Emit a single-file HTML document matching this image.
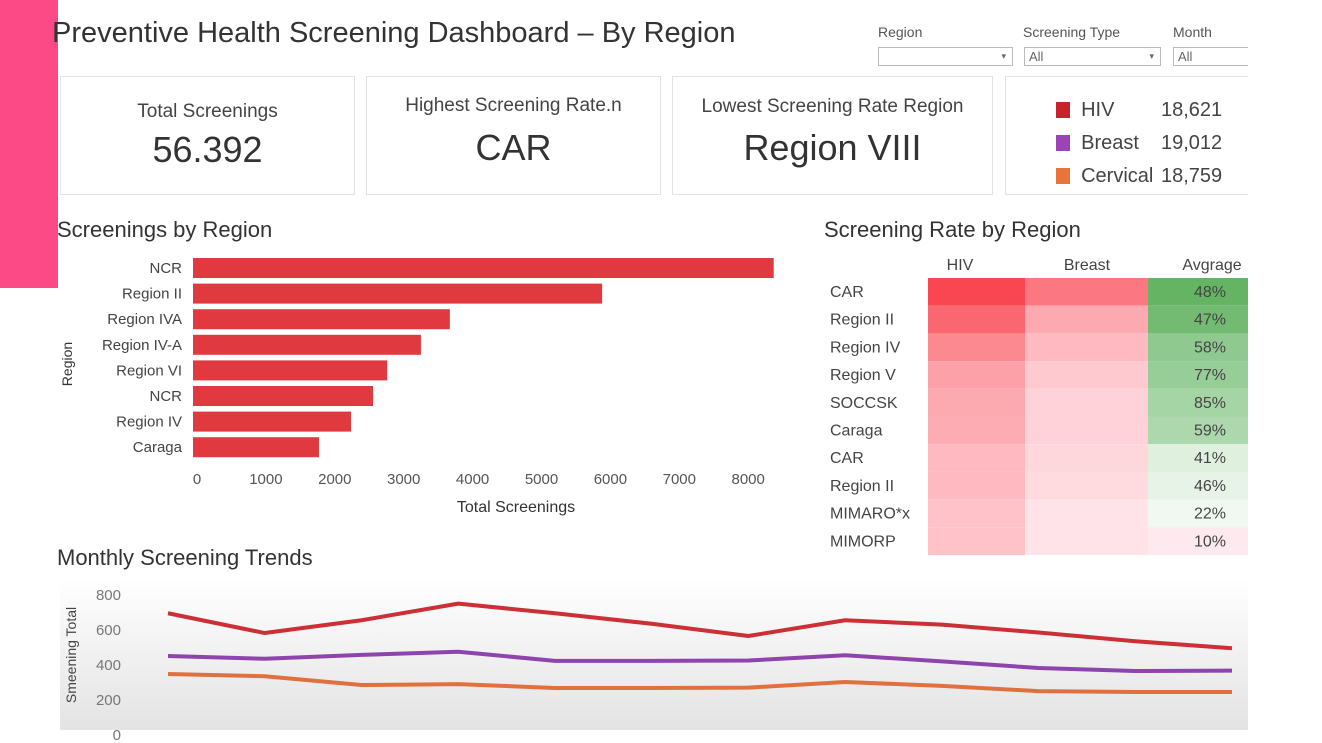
<!DOCTYPE html>
<html><head><meta charset="utf-8"><style>
body{margin:0;width:1322px;height:743px;background:#fff;font-family:"Liberation Sans",sans-serif;overflow:hidden;position:relative;color:#333}
.abs{position:absolute}
.card{position:absolute;border:1px solid #e2e2e2;background:#fff;text-align:center}
.lbl{font-size:19px;color:#444}
.big{font-size:36px;color:#333}
.filt{position:absolute;font-size:14px;color:#555}
.box{position:absolute;border:1px solid #bbb;height:19px;background:#fff;font-size:13px;color:#666;padding-left:4px;box-sizing:border-box;line-height:17px}
</style></head><body>
<div class="abs" style="left:0;top:0;width:58px;height:288px;background:#fb4a86"></div>
<div class="abs" style="left:52px;top:17px;font-size:29px;color:#333">Preventive Health Screening Dashboard – By Region</div>
<div class="filt" style="left:878px;top:24px">Region</div>
<div class="box" style="left:878px;top:47px;width:135px">&nbsp;<span style="float:right;margin-right:6px;font-size:9px">▾</span></div>
<div class="filt" style="left:1023px;top:24px">Screening Type</div>
<div class="box" style="left:1024px;top:47px;width:137px">All<span style="float:right;margin-right:6px;font-size:9px">▾</span></div>
<div class="filt" style="left:1173px;top:24px">Month</div>
<div class="box" style="left:1173px;top:47px;width:75px;border-right:none">All</div>

<div class="card" style="left:60px;top:76px;width:293px;height:117px">
<div class="lbl" style="margin-top:24px">Total Screenings</div><div class="big" style="margin-top:6px">56.392</div></div>
<div class="card" style="left:366px;top:76px;width:293px;height:117px">
<div class="lbl" style="margin-top:18px">Highest Screening Rate.n</div><div class="big" style="margin-top:10px">CAR</div></div>
<div class="card" style="left:672px;top:76px;width:319px;height:117px">
<div class="lbl" style="margin-top:19px">Lowest Screening Rate Region</div><div class="big" style="margin-top:9px">Region VIII</div></div>
<div class="card" style="left:1005px;top:76px;width:260px;height:117px;text-align:left;font-size:20px;color:#444">
<div style="position:absolute;left:50px;top:22px"><span style="display:inline-block;width:14px;height:16px;background:#c8232c;vertical-align:-2px"></span>&nbsp; HIV</div><div style="position:absolute;left:155px;top:22px">18,621</div>
<div style="position:absolute;left:50px;top:55px"><span style="display:inline-block;width:14px;height:16px;background:#9b45b5;vertical-align:-2px"></span>&nbsp; Breast</div><div style="position:absolute;left:155px;top:55px">19,012</div>
<div style="position:absolute;left:50px;top:88px"><span style="display:inline-block;width:14px;height:16px;background:#e8743b;vertical-align:-2px"></span>&nbsp; Cervical</div><div style="position:absolute;left:155px;top:88px">18,759</div>
</div>
<div class="abs" style="left:1248px;top:0;width:74px;height:743px;background:#fff"></div>

<svg id="chart" class="abs" style="left:0;top:0" width="1322" height="743"></svg>
<script>
const barCats=["NCR","Region II","Region IVA","Region IV-A","Region VI","NCR","Region IV","Caraga"];
const barVals=[8370,5880,3670,3250,2760,2555,2235,1770];
const barTicks=[0,1000,2000,3000,4000,5000,6000,7000,8000];
const hmRows=["CAR","Region II","Region IV","Region V","SOCCSK","Caraga","CAR","Region II","MIMARO*x","MIMORP"];
const hmHiv=[1,0.8,0.6,0.45,0.4,0.38,0.3,0.3,0.25,0.25];
const hmBreast=[0.7,0.4,0.3,0.2,0.15,0.15,0.12,0.1,0.05,0.05];
const hmAvgShade=[1,0.9,0.7,0.65,0.55,0.5,0.15,0.1,0.03,0];
const hmAvgLabels=["48%","47%","58%","77%","85%","59%","41%","46%","22%","10%"];
const lineMonths=[1,2,3,4,5,6,7,8,9,10,11,12];
const hivSeries=[690,577,650,745,690,630,560,650,625,580,530,490];
const breastSeries=[446,430,452,470,418,418,420,450,415,377,360,362];
const cervSeries=[343,330,280,285,263,263,265,297,275,245,240,240];
const lineTicks=[0,200,400,600,800];

const svg=document.getElementById('chart');const NS='http://www.w3.org/2000/svg';
function mk(t,a,txt){const e=document.createElementNS(NS,t);for(const k in a)e.setAttribute(k,a[k]);if(txt!=null)e.textContent=txt;svg.appendChild(e);return e;}
let e=mk('text',{x:57,y:237,'font-size':22,fill:'#333'},'Screenings by Region');


const bx=v=>197+v*0.0689;
barCats.forEach((c,i)=>{const y=258+i*25.6;
 let r=mk('rect',{x:193,y:y,width:bx(barVals[i])-193,height:20,fill:'#e0393f'});
 
 
 let t=mk('text',{x:182,y:y+15,'font-size':15,fill:'#444','text-anchor':'end'},c);
 
 });
barTicks.forEach(v=>{let t=mk('text',{x:bx(v),y:484,'font-size':15,fill:'#555','text-anchor':'middle'},v);
 
 });
e=mk('text',{x:516,y:512,'font-size':16,fill:'#333','text-anchor':'middle'},'Total Screenings');


e=mk('text',{x:72,y:364,'font-size':14,fill:'#333','text-anchor':'middle',transform:'rotate(-90 72 364)'},'Region');


e=mk('text',{x:824,y:237,'font-size':22,fill:'#333'},'Screening Rate by Region');


[['HIV',960],['Breast',1087],['Avgrage',1212]].forEach(h=>{let t=mk('text',{x:h[1],y:270,'font-size':16,fill:'#444','text-anchor':'middle'},h[0]);
 
 });
const red=s=>`rgb(${Math.round(255-(255-250)*s)},${Math.round(235-(235-70)*s)},${Math.round(240-(240-80)*s)})`;
const green=s=>`rgb(${Math.round(245-(245-100)*s)},${Math.round(250-(250-180)*s)},${Math.round(245-(245-100)*s)})`;
hmRows.forEach((r,i)=>{const y=278+i*27.7;
 let t=mk('text',{x:830,y:y+19,'font-size':16,fill:'#444'},r);
 
 
 let c=mk('rect',{x:928,y:y,width:97,height:27.7,fill:red(hmHiv[i])});
 
 
 c=mk('rect',{x:1025,y:y,width:123,height:27.7,fill:red(hmBreast[i])});
 
 
 c=mk('rect',{x:1148,y:y,width:100,height:27.7,fill:hmAvgShade[i]>0?green(hmAvgShade[i]):'#fde9ee'});
 
 
 t=mk('text',{x:1210,y:y+19,'font-size':16,fill:'#444','text-anchor':'middle'},hmAvgLabels[i]);
 
 });
e=mk('text',{x:57,y:565,'font-size':22,fill:'#333'},'Monthly Screening Trends');


const defs=mk('defs',{});defs.innerHTML='<linearGradient id="g" x1="0" y1="0" x2="0" y2="1"><stop offset="0" stop-color="#fff"/><stop offset="1" stop-color="#e3e3e3"/></linearGradient>';
e=mk('rect',{x:60,y:578,width:1188,height:152,fill:'url(#g)'});


const ly=v=>734-v*0.175, lx=m=>168+(m-1)*(1232-168)/11;
lineTicks.forEach(v=>{let t=mk('text',{x:121,y:ly(v)+6,'font-size':15,fill:'#777','text-anchor':'end'},v);
 
 });
e=mk('text',{x:76,y:655,'font-size':14,fill:'#444','text-anchor':'middle',transform:'rotate(-90 76 655)'},'Smeening Total');


[[hivSeries,'#cc2f36','hiv-line'],[breastSeries,'#8e44ad','breast-line'],[cervSeries,'#e0713f','cervical-line']].forEach(s=>{
 const p=lineMonths.map((m,i)=>lx(m)+','+ly(s[0][i])).join(' ');
 let l=mk('polyline',{points:p,fill:'none',stroke:s[1],'stroke-width':4,'stroke-linejoin':'round'});
 
 });
</script>
</body></html>
